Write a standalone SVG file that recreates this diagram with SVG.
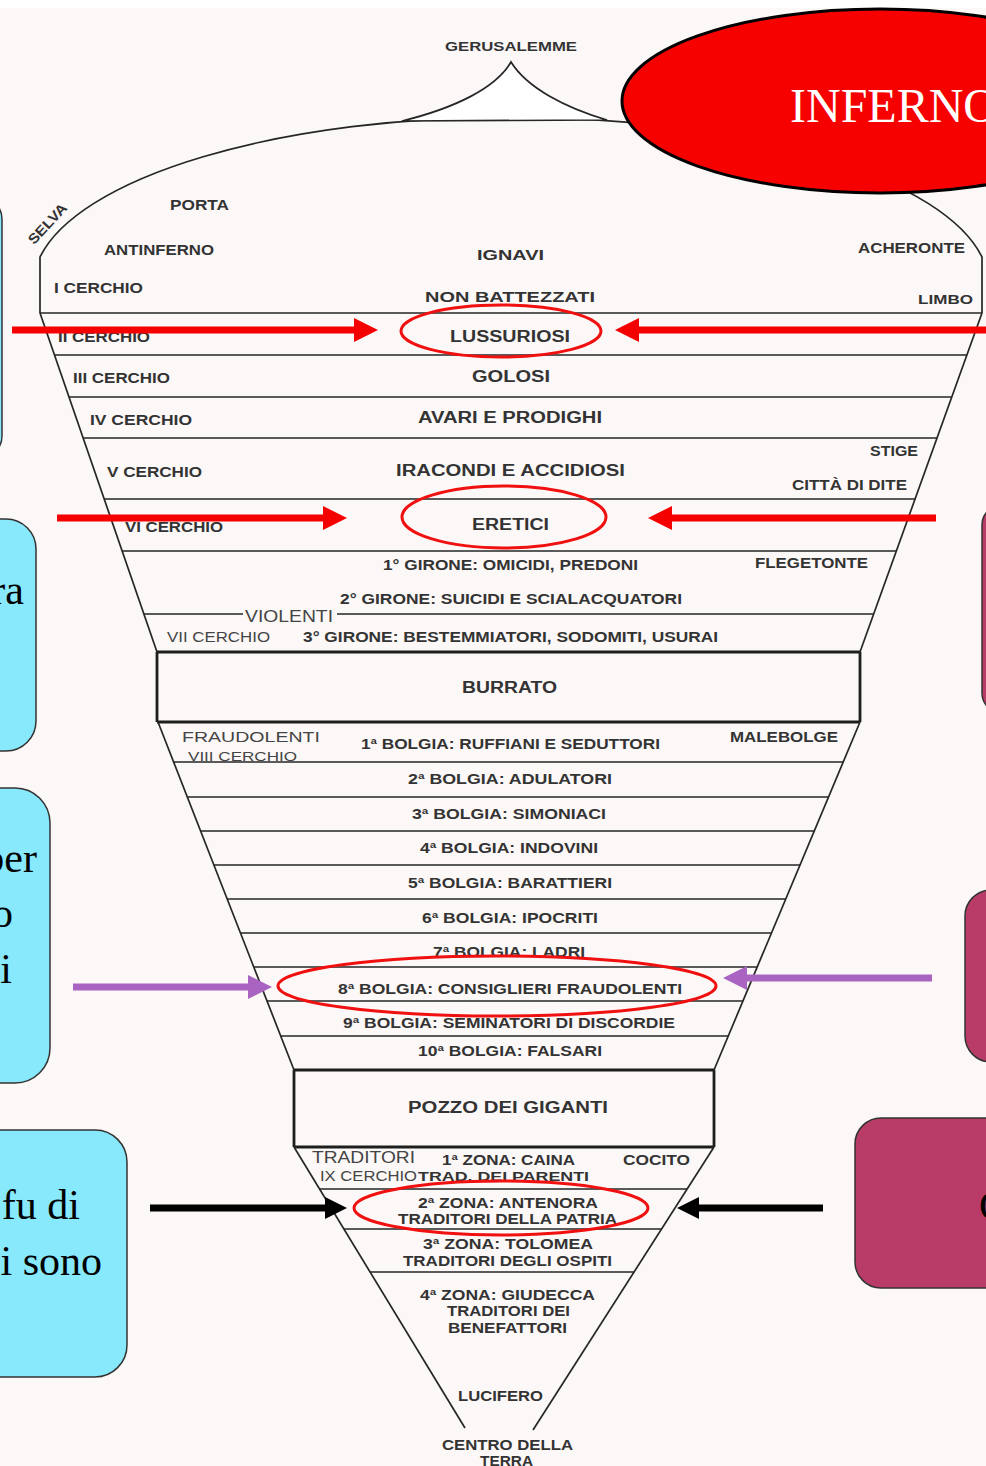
<svg xmlns="http://www.w3.org/2000/svg" width="986" height="1466" viewBox="0 0 986 1466">
<style>
.lbl{font-family:"Liberation Sans",Arial,sans-serif;font-weight:700;fill:#333}
.thin{font-weight:400;fill:#444}
.ln{stroke:#262626;stroke-width:1.7;fill:none}
.thick{stroke:#1e1e1e;stroke-width:2.8;fill:none}
.hl{fill:none;stroke:#f01010;stroke-width:3}
.boxc{fill:#88e8fc;stroke:#333;stroke-width:1.5}
.boxm{fill:#b83c67;stroke:#333;stroke-width:1.5}
.big{font-family:"Liberation Serif","Times New Roman",serif;font-size:42px;fill:#000}
.red{stroke:#f50000;stroke-width:7}
.pur{stroke:#a963c1;stroke-width:7}
.blk{stroke:#000;stroke-width:7}
</style>
<defs>
<marker id="ah-red" markerUnits="userSpaceOnUse" markerWidth="24" markerHeight="24" refX="12" refY="12" orient="auto"><path d="M0,0 L24,12 L0,24 Z" fill="#f50000"/></marker>
<marker id="ah-pur" markerUnits="userSpaceOnUse" markerWidth="24" markerHeight="24" refX="12" refY="12" orient="auto"><path d="M0,0 L24,12 L0,24 Z" fill="#a963c1"/></marker>
<marker id="ah-blk" markerUnits="userSpaceOnUse" markerWidth="22" markerHeight="22" refX="11" refY="11" orient="auto"><path d="M0,0 L22,11 L0,22 Z" fill="#000"/></marker>
</defs>

<rect x="0" y="0" width="986" height="1466" fill="#fcf8f7"/>
<rect x="0" y="0" width="986" height="8" fill="#ffffff"/>

<!-- side boxes -->
<g id="box-left-1"><rect class="boxc" x="-100" y="197" width="102" height="261" rx="22"/></g>
<g id="box-left-2"><rect class="boxc" x="-100" y="519" width="136" height="232" rx="30"/><text class="big" x="24" y="604" text-anchor="end">ra</text></g>
<g id="box-left-3"><rect class="boxc" x="-100" y="788" width="150" height="295" rx="35"/><text class="big" x="37" y="872" text-anchor="end">per</text><text class="big" x="13" y="927" text-anchor="end">o</text><text class="big" x="12" y="983" text-anchor="end">i</text></g>
<g id="box-left-4"><rect class="boxc" x="-100" y="1130" width="227" height="247" rx="32"/><text class="big" x="80" y="1219" text-anchor="end">fu di</text><text class="big" x="102" y="1275" text-anchor="end">i sono</text></g>
<g id="box-right-1"><rect class="boxm" x="982" y="505" width="100" height="208" rx="20"/></g>
<g id="box-right-2"><rect class="boxm" x="965" y="890" width="100" height="172" rx="26"/></g>
<g id="box-right-3"><rect class="boxm" x="855" y="1118" width="200" height="170" rx="26"/><text class="big" x="979" y="1220">C</text></g>

<!-- funnel structure -->
<g id="inferno-structure">
<path class="ln" d="M40,313 L40,257 A478,168.7 0 0 1 982,257 L982,313"/>
<path d="M402,121 C455,108 496,88 511,62 C527,88 566,108 607,120 Z" fill="#ffffff" stroke="#262626" stroke-width="1.7"/>
<line class="ln" x1="40" y1="313" x2="157" y2="652"/>
<line class="ln" x1="982" y1="313" x2="860" y2="652"/>
<line class="ln" x1="40" y1="313" x2="982" y2="313"/>
<line class="ln" x1="54.4" y1="355" x2="966.9" y2="355"/>
<line class="ln" x1="68.9" y1="397" x2="951.8" y2="397"/>
<line class="ln" x1="83" y1="438" x2="937" y2="438"/>
<line class="ln" x1="104" y1="499" x2="915" y2="499"/>
<line class="ln" x1="121.9" y1="551" x2="896.3" y2="551"/>
<line class="ln" x1="143.5" y1="614" x2="243" y2="614"/>
<line class="ln" x1="337" y1="614" x2="873.6" y2="614"/>
<path class="thick" d="M157,652 L860,652 M157,652 L157,722 M860,652 L860,722 M157,722 L860,722"/>
<line class="ln" x1="158" y1="722" x2="294" y2="1070"/>
<line class="ln" x1="860" y1="722" x2="714" y2="1070"/>
<line class="ln" x1="173.6" y1="762" x2="843.2" y2="762"/>
<line class="ln" x1="187.3" y1="797" x2="828.6" y2="797"/>
<line class="ln" x1="200.5" y1="831" x2="814.3" y2="831"/>
<line class="ln" x1="213.8" y1="865" x2="800.1" y2="865"/>
<line class="ln" x1="227" y1="899" x2="785.8" y2="899"/>
<line class="ln" x1="240.3" y1="933" x2="771.6" y2="933"/>
<line class="ln" x1="253.6" y1="967" x2="757.3" y2="967"/>
<line class="ln" x1="266.8" y1="1001" x2="743.1" y2="1001"/>
<line class="ln" x1="280.5" y1="1036" x2="728.4" y2="1036"/>
<path class="thick" d="M294,1070 L714,1070 M294,1070 L294,1147 M714,1070 L714,1147 M294,1147 L714,1147"/>
<line class="ln" x1="294" y1="1147" x2="465" y2="1428"/>
<line class="ln" x1="714" y1="1147" x2="533" y2="1430"/>
<line class="ln" x1="319.5" y1="1189" x2="687" y2="1189"/>
<line class="ln" x1="343.9" y1="1229" x2="661.3" y2="1229"/>
<line class="ln" x1="370" y1="1272" x2="633.6" y2="1272"/>
</g>

<!-- labels -->
<g id="labels" class="lbl">
<text x="445" y="51" font-size="13" textLength="132" lengthAdjust="spacingAndGlyphs">GERUSALEMME</text>
<text x="51" y="227" font-size="14" text-anchor="middle" textLength="50" lengthAdjust="spacingAndGlyphs" transform="rotate(-47 51 227)">SELVA</text>
<text x="170" y="210" font-size="14" textLength="59" lengthAdjust="spacingAndGlyphs">PORTA</text>
<text x="104" y="255" font-size="14" textLength="110" lengthAdjust="spacingAndGlyphs">ANTINFERNO</text>
<text x="477" y="260" font-size="15" textLength="67" lengthAdjust="spacingAndGlyphs">IGNAVI</text>
<text x="858" y="253" font-size="14" textLength="107" lengthAdjust="spacingAndGlyphs">ACHERONTE</text>
<text x="54" y="293" font-size="14" textLength="89" lengthAdjust="spacingAndGlyphs">I CERCHIO</text>
<text x="425" y="302" font-size="15" textLength="170" lengthAdjust="spacingAndGlyphs">NON BATTEZZATI</text>
<text x="918" y="304" font-size="13" textLength="55" lengthAdjust="spacingAndGlyphs">LIMBO</text>
<text x="58" y="342" font-size="14" textLength="92" lengthAdjust="spacingAndGlyphs">II CERCHIO</text>
<text x="450" y="342" font-size="16" textLength="120" lengthAdjust="spacingAndGlyphs">LUSSURIOSI</text>
<text x="73" y="383" font-size="14" textLength="97" lengthAdjust="spacingAndGlyphs">III CERCHIO</text>
<text x="472" y="382" font-size="16" textLength="78" lengthAdjust="spacingAndGlyphs">GOLOSI</text>
<text x="90" y="425" font-size="14" textLength="102" lengthAdjust="spacingAndGlyphs">IV CERCHIO</text>
<text x="418" y="423" font-size="16" textLength="184" lengthAdjust="spacingAndGlyphs">AVARI E PRODIGHI</text>
<text x="870" y="456" font-size="14" textLength="48" lengthAdjust="spacingAndGlyphs">STIGE</text>
<text x="107" y="477" font-size="14" textLength="95" lengthAdjust="spacingAndGlyphs">V CERCHIO</text>
<text x="396" y="476" font-size="16" textLength="229" lengthAdjust="spacingAndGlyphs">IRACONDI E ACCIDIOSI</text>
<text x="792" y="490" font-size="14" textLength="115" lengthAdjust="spacingAndGlyphs">CITTÀ DI DITE</text>
<text x="125" y="532" font-size="14" textLength="98" lengthAdjust="spacingAndGlyphs">VI CERCHIO</text>
<text x="472" y="530" font-size="16" textLength="77" lengthAdjust="spacingAndGlyphs">ERETICI</text>
<text x="383" y="570" font-size="14" textLength="255" lengthAdjust="spacingAndGlyphs">1° GIRONE: OMICIDI, PREDONI</text>
<text x="755" y="568" font-size="14" textLength="113" lengthAdjust="spacingAndGlyphs">FLEGETONTE</text>
<text x="340" y="604" font-size="14" textLength="342" lengthAdjust="spacingAndGlyphs">2° GIRONE: SUICIDI E SCIALACQUATORI</text>
<text class="thin" x="245" y="622" font-size="17" textLength="88" lengthAdjust="spacingAndGlyphs">VIOLENTI</text>
<text class="thin" x="167" y="642" font-size="15" textLength="103" lengthAdjust="spacingAndGlyphs">VII CERCHIO</text>
<text x="303" y="642" font-size="14" textLength="415" lengthAdjust="spacingAndGlyphs">3° GIRONE: BESTEMMIATORI, SODOMITI, USURAI</text>
<text x="462" y="693" font-size="16" textLength="95" lengthAdjust="spacingAndGlyphs">BURRATO</text>
<text class="thin" x="182" y="742" font-size="15" textLength="138" lengthAdjust="spacingAndGlyphs">FRAUDOLENTI</text>
<text class="thin" x="188" y="761" font-size="13" textLength="109" lengthAdjust="spacingAndGlyphs">VIII CERCHIO</text>
<text x="361" y="749" font-size="14" textLength="299" lengthAdjust="spacingAndGlyphs">1ª BOLGIA: RUFFIANI E SEDUTTORI</text>
<text x="730" y="742" font-size="14" textLength="108" lengthAdjust="spacingAndGlyphs">MALEBOLGE</text>
<text x="408" y="784" font-size="14" textLength="204" lengthAdjust="spacingAndGlyphs">2ª BOLGIA: ADULATORI</text>
<text x="412" y="819" font-size="14" textLength="194" lengthAdjust="spacingAndGlyphs">3ª BOLGIA: SIMONIACI</text>
<text x="420" y="853" font-size="14" textLength="178" lengthAdjust="spacingAndGlyphs">4ª BOLGIA: INDOVINI</text>
<text x="408" y="888" font-size="14" textLength="204" lengthAdjust="spacingAndGlyphs">5ª BOLGIA: BARATTIERI</text>
<text x="422" y="923" font-size="14" textLength="176" lengthAdjust="spacingAndGlyphs">6ª BOLGIA: IPOCRITI</text>
<text x="433" y="957" font-size="14" textLength="152" lengthAdjust="spacingAndGlyphs">7ª BOLGIA: LADRI</text>
<text x="338" y="994" font-size="14" textLength="344" lengthAdjust="spacingAndGlyphs">8ª BOLGIA: CONSIGLIERI FRAUDOLENTI</text>
<text x="343" y="1028" font-size="14" textLength="332" lengthAdjust="spacingAndGlyphs">9ª BOLGIA: SEMINATORI DI DISCORDIE</text>
<text x="418" y="1056" font-size="14" textLength="184" lengthAdjust="spacingAndGlyphs">10ª BOLGIA: FALSARI</text>
<text x="408" y="1113" font-size="16" textLength="200" lengthAdjust="spacingAndGlyphs">POZZO DEI GIGANTI</text>
<text class="thin" x="312" y="1163" font-size="16" textLength="103" lengthAdjust="spacingAndGlyphs">TRADITORI</text>
<text class="thin" x="320" y="1181" font-size="14" textLength="97" lengthAdjust="spacingAndGlyphs">IX CERCHIO</text>
<text x="442" y="1165" font-size="14" textLength="133" lengthAdjust="spacingAndGlyphs">1ª ZONA: CAINA</text>
<text x="418" y="1181" font-size="13" textLength="171" lengthAdjust="spacingAndGlyphs">TRAD. DEI PARENTI</text>
<text x="623" y="1165" font-size="14" textLength="67" lengthAdjust="spacingAndGlyphs">COCITO</text>
<text x="418" y="1208" font-size="14" textLength="180" lengthAdjust="spacingAndGlyphs">2ª ZONA: ANTENORA</text>
<text x="398" y="1224" font-size="14" textLength="219" lengthAdjust="spacingAndGlyphs">TRADITORI DELLA PATRIA</text>
<text x="423" y="1249" font-size="14" textLength="170" lengthAdjust="spacingAndGlyphs">3ª ZONA: TOLOMEA</text>
<text x="403" y="1266" font-size="14" textLength="209" lengthAdjust="spacingAndGlyphs">TRADITORI DEGLI OSPITI</text>
<text x="420" y="1300" font-size="14" textLength="175" lengthAdjust="spacingAndGlyphs">4ª ZONA: GIUDECCA</text>
<text x="447" y="1316" font-size="14" textLength="123" lengthAdjust="spacingAndGlyphs">TRADITORI DEI</text>
<text x="448" y="1333" font-size="14" textLength="119" lengthAdjust="spacingAndGlyphs">BENEFATTORI</text>
<text x="458" y="1401" font-size="14" textLength="85" lengthAdjust="spacingAndGlyphs">LUCIFERO</text>
<text x="442" y="1450" font-size="14" textLength="131" lengthAdjust="spacingAndGlyphs">CENTRO DELLA</text>
<text x="480" y="1466" font-size="14" textLength="53" lengthAdjust="spacingAndGlyphs">TERRA</text>
</g>

<!-- highlight ellipses -->
<g id="highlights">
<ellipse class="hl" cx="501" cy="331" rx="100" ry="26"/>
<ellipse class="hl" cx="504" cy="517" rx="102" ry="31"/>
<ellipse class="hl" cx="497" cy="986" rx="219" ry="30"/>
<ellipse class="hl" cx="501" cy="1208" rx="147" ry="27"/>
</g>

<!-- title node -->
<g id="inferno-title">
<ellipse cx="880" cy="101" rx="258" ry="92" fill="#f70000" stroke="#000" stroke-width="3"/>
<text x="790" y="122" font-family="Liberation Serif,'Times New Roman',serif" font-size="48" fill="#ffffff">INFERNO</text>
</g>

<!-- connectors -->
<g id="connectors">
<line class="red" x1="12" y1="330" x2="366" y2="330" marker-end="url(#ah-red)"/>
<line class="red" x1="986" y1="330" x2="627" y2="330" marker-end="url(#ah-red)"/>
<line class="red" x1="57" y1="518" x2="335" y2="518" marker-end="url(#ah-red)"/>
<line class="red" x1="936" y1="518" x2="660" y2="518" marker-end="url(#ah-red)"/>
<line class="pur" x1="73" y1="987" x2="260" y2="987" marker-end="url(#ah-pur)"/>
<line class="pur" x1="932" y1="978" x2="735" y2="978" marker-end="url(#ah-pur)"/>
<line class="blk" x1="150" y1="1208" x2="336" y2="1208" marker-end="url(#ah-blk)"/>
<line class="blk" x1="823" y1="1208" x2="688" y2="1208" marker-end="url(#ah-blk)"/>
</g>
</svg>
